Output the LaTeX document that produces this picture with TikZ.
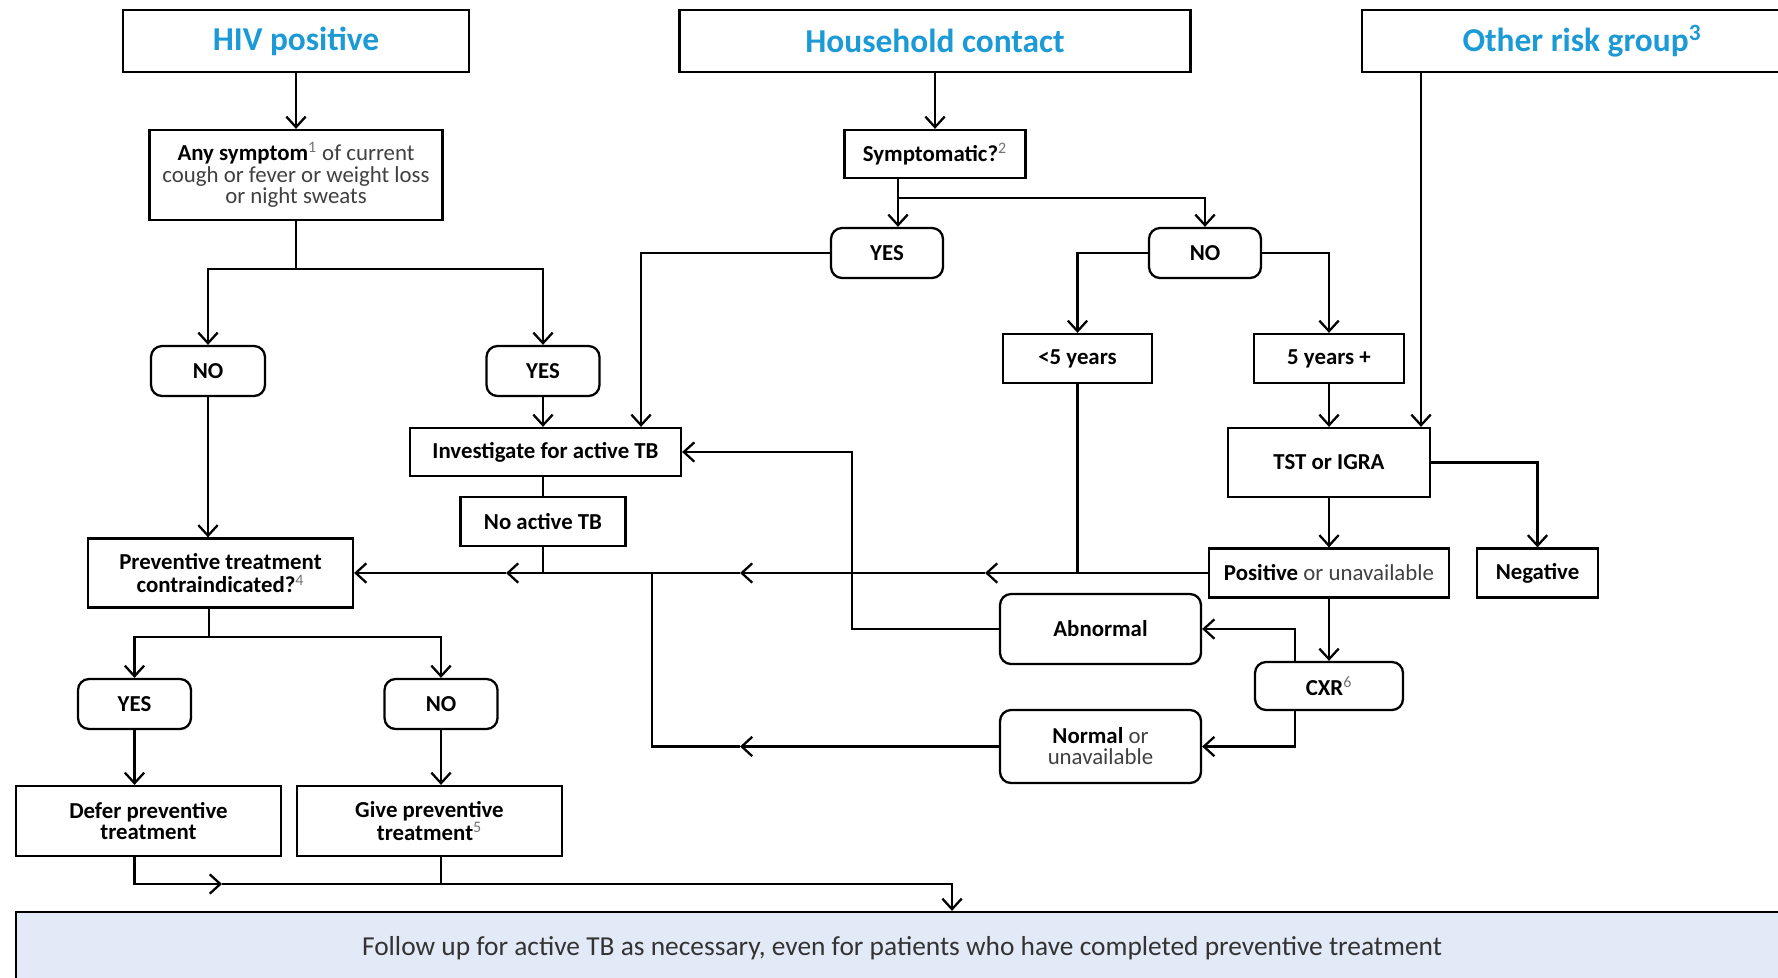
\documentclass[tikz,border=0pt]{standalone}
\usepackage{fontspec}
\setmainfont{Carlito}
\usetikzlibrary{arrows.meta,calc}
\definecolor{hblue}{RGB}{27,154,214}
\definecolor{fillb}{RGB}{227,234,247}
\newcommand{\lt}[1]{{\mdseries\color{black!75}#1}}
\newcommand{\sps}[1]{\textsuperscript{\mdseries\color{black!55}#1}}
\begin{document}
\begin{tikzpicture}[x=0.02cm,y=-0.02cm,line width=1.3pt,
  box/.style={draw, inner sep=0pt, align=center, font=\fontsize{13}{12.5}\selectfont\bfseries},
  rbox/.style={box, rounded corners=0.22cm},
  head/.style={box, font=\fontsize{19}{20}\selectfont\bfseries, text=hblue},
  arr/.style={-{Straight Barb[length=6pt,width=11pt,line width=1.3pt]}}]
\useasboundingbox (0,0) rectangle (1778,977);

% nodes
\node[head, minimum width=6.92cm, minimum height=1.24cm] (hiv) at (296,41) {HIV positive};
\node[head, minimum width=10.22cm, minimum height=1.24cm] (house) at (935,41) {Household contact};
\node[head, minimum width=8.8cm, minimum height=1.24cm] (other) at (1582,41) {Other risk group\textsuperscript{3}};
\node[box, minimum width=5.86cm, minimum height=1.8cm, font=\fontsize{13}{12.2}\selectfont\bfseries] (sym) at (296,175)
  {Any symptom\sps{1} \lt{of current}\\\lt{cough or fever or weight loss}\\\lt{or night sweats}};
\node[box, minimum width=3.62cm, minimum height=0.96cm] (hsym) at (935,154) {Symptomatic?\sps{2}};
\node[rbox, minimum width=2.24cm, minimum height=1cm] (hyes) at (887,253) {YES};
\node[rbox, minimum width=2.24cm, minimum height=1cm] (hno) at (1205,253) {NO};
\node[rbox, minimum width=2.28cm, minimum height=1cm] (lno) at (208,371) {NO};
\node[rbox, minimum width=2.26cm, minimum height=1cm] (lyes) at (543,371) {YES};
\node[box, minimum width=5.42cm, minimum height=0.96cm] (inv) at (545.5,452) {Investigate for active TB};
\node[box, minimum width=3.3cm, minimum height=0.98cm] (noact) at (543,521.5) {No active TB};
\node[box, minimum width=5.3cm, minimum height=1.38cm, font=\fontsize{13}{13.6}\selectfont\bfseries] (prev) at (220.5,573) {Preventive treatment\\contraindicated?\sps{4}};
\node[box, minimum width=2.98cm, minimum height=0.98cm] (lt5) at (1077.5,358.5) {<5 years};
\node[box, minimum width=3.0cm, minimum height=0.98cm] (ge5) at (1329,358.5) {5 years +};
\node[box, minimum width=4.04cm, minimum height=1.38cm] (tst) at (1329,462.5) {TST or IGRA};
\node[box, minimum width=4.8cm, minimum height=0.98cm] (pos) at (1329,573) {Positive \lt{or unavailable}};
\node[box, minimum width=2.42cm, minimum height=0.98cm] (neg) at (1537.5,573) {Negative};
\node[rbox, minimum width=4.02cm, minimum height=1.4cm] (abn) at (1100.5,629) {Abnormal};
\node[rbox, minimum width=2.96cm, minimum height=0.96cm] (cxr) at (1329,686) {CXR\sps{6}};
\node[rbox, minimum width=4.02cm, minimum height=1.46cm, font=\fontsize{13}{12}\selectfont\bfseries] (nor) at (1100.5,746.5) {Normal \lt{or}\\\lt{unavailable}};
\node[rbox, minimum width=2.26cm, minimum height=1cm] (pyes) at (134.5,704) {YES};
\node[rbox, minimum width=2.26cm, minimum height=1cm] (pno) at (441,704) {NO};
\node[box, minimum width=5.3cm, minimum height=1.4cm, font=\fontsize{13}{12.2}\selectfont\bfseries] (defer) at (148.5,821) {Defer preventive\\treatment};
\node[box, minimum width=5.3cm, minimum height=1.4cm, font=\fontsize{13}{13.2}\selectfont\bfseries] (give) at (429.5,821) {Give preventive\\treatment\sps{5}};
\node[box, fill=fillb, minimum width=35.44cm, minimum height=1.44cm, font=\fontsize{15.6}{16}\selectfont\mdseries, text=black!80] (follow) at (902,948)
  {Follow up for active TB as necessary, even for patients who have completed preventive treatment};

% helper coordinates
\coordinate (sj) at (296,269);
\coordinate (hj) at (898,198);
\coordinate (c641) at (641,255);
\coordinate (c1421) at (1421,0);
\coordinate (c852) at (852,0);
\coordinate (c1295) at (1295,0);
\coordinate (m1) at (985,573);
\coordinate (m2) at (740,573);
\coordinate (m3) at (506,573);
\coordinate (m4) at (740,746.5);
\coordinate (c652) at (652,746.5);
\coordinate (pj) at (209,637);
\coordinate (b1) at (135,884);
\coordinate (m5) at (222,884);
\coordinate (b2) at (952,884);

% connectors
\draw[arr] (hiv.south) -- (hiv.south |- sym.north);
\draw (sym.south) -- (sj);
\draw[arr] (sj) -| (lno.north);
\draw[arr] (sj) -| (lyes.north);
\draw[arr] (house.south) -- (hsym.north);
\draw (hsym.south -| hj) -- (hj);
\draw[arr] (hj) -- (hj |- hyes.north);
\draw[arr] (hj) -| (hno.north);
\draw[arr] (hyes.west) -| (c641 |- inv.north);
\draw[arr] (lyes.south) -- (lyes.south |- inv.north);
\draw[arr] (hno.west) -| (lt5.north);
\draw[arr] (hno.east) -| (ge5.north);
\draw[arr] (ge5.south) -- (tst.north);
\draw[arr] (other.south -| c1421) -- (c1421 |- tst.north);
\draw[arr] (tst.east) -| (neg.north);
\draw[arr] (tst.south) -- (pos.north);
\draw (lt5.south) -- (lt5.south |- pos.west);
\draw (noact.north |- inv.south) -- (noact.north);
\draw (noact.south) -- (noact.south |- prev.east);
\draw[arr] (pos.west) -- (m1);
\draw[arr] (m1) -- (m2);
\draw[arr] (m2) -- (m3);
\draw[arr] (m3) -- (prev.east);
\draw[arr] (abn.west) -| (c852 |- inv.east) -- (inv.east);
\draw[arr] (pos.south) -- (cxr.north);
\draw[arr] (cxr.north -| c1295) |- (abn.east);
\draw[arr] (cxr.south -| c1295) |- (nor.east);
\draw[arr] (nor.west) -- (m4);
\draw (m4) -- (c652) -- (c652 |- prev.east);
\draw[arr] (lno.south) -- (lno.south |- prev.north);
\draw (pj |- prev.south) -- (pj);
\draw[arr] (pj) -| (pyes.north);
\draw[arr] (pj) -| (pno.north);
\draw[arr] (pyes.south) -- (pyes.south |- defer.north);
\draw[arr] (pno.south) -- (pno.south |- give.north);
\draw[arr] (pyes.south |- defer.south) |- (m5);
\draw (pno.south |- give.south) -- (pno.south |- b1);
\draw[arr] (m5) -| (b2 |- follow.north);
\end{tikzpicture}
\end{document}
